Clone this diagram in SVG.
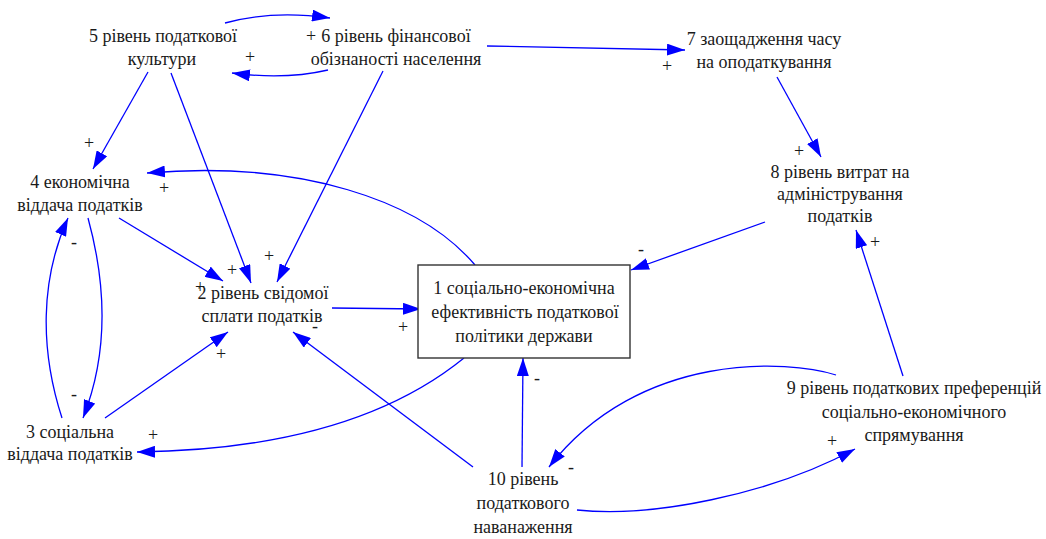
<svg xmlns="http://www.w3.org/2000/svg" width="1046" height="539" viewBox="0 0 1046 539">
<style>
.t{font-family:"Liberation Serif","DejaVu Serif Condensed","DejaVu Serif","Times New Roman",serif;font-size:18px;fill:#1a1a1a;text-anchor:middle}
.e{fill:none;stroke:#0000ff;stroke-width:1.3}
.box{fill:#ffffff;stroke:#333333;stroke-width:1.4}
</style>
<defs>
<marker id="ah" markerUnits="userSpaceOnUse" markerWidth="18" markerHeight="12" refX="18" refY="6" orient="auto">
<path d="M0,0 L18,6 L0,12 z" fill="#0000ff"/>
</marker>
</defs>
<rect width="1046" height="539" fill="#ffffff"/>
<g id="connectors">
<path class="e" marker-end="url(#ah)" d="M225,23 Q272,10 330,18"/>
<path class="e" marker-end="url(#ah)" d="M328,70 Q285,80 232,73"/>
<path class="e" marker-end="url(#ah)" d="M487,46 L685,50"/>
<path class="e" marker-end="url(#ah)" d="M777,77 L821,157"/>
<path class="e" marker-end="url(#ah)" d="M765,222 L631,270"/>
<path class="e" marker-end="url(#ah)" d="M903,376 L856,230"/>
<path class="e" marker-end="url(#ah)" d="M836,375 C790,360 640,350 549,467"/>
<path class="e" marker-end="url(#ah)" d="M577,510 C650,518 770,495 855,449"/>
<path class="e" marker-end="url(#ah)" d="M148,72 L93,169"/>
<path class="e" marker-end="url(#ah)" d="M171,73 L251,283"/>
<path class="e" marker-end="url(#ah)" d="M383,71 L277,282"/>
<path class="e" marker-end="url(#ah)" d="M119,218 L223,281"/>
<path class="e" marker-end="url(#ah)" d="M475,265 C420,200 300,160 147,173"/>
<path class="e" marker-end="url(#ah)" d="M62,418 C40,350 40,280 68,218"/>
<path class="e" marker-end="url(#ah)" d="M88,218 C105,280 110,350 83,418"/>
<path class="e" marker-end="url(#ah)" d="M105,418 L228,332"/>
<path class="e" marker-end="url(#ah)" d="M332,308 L421,309"/>
<path class="e" marker-end="url(#ah)" d="M473,467 L293,332"/>
<path class="e" marker-end="url(#ah)" d="M464,358 C400,410 300,450 137,452"/>
<path class="e" marker-end="url(#ah)" d="M522,467 L523,358"/>
</g>
<g id="labels" class="t">
<text x="311" y="42">+</text>
<text x="250" y="63">+</text>
<text x="667" y="72">+</text>
<text x="799" y="157">+</text>
<text x="641" y="255">-</text>
<text x="875" y="248">+</text>
<text x="571" y="473">-</text>
<text x="832" y="447">+</text>
<text x="89" y="149">+</text>
<text x="232" y="276">+</text>
<text x="269" y="262">+</text>
<text x="200" y="293">+</text>
<text x="164" y="194">+</text>
<text x="74" y="248">-</text>
<text x="74" y="400">-</text>
<text x="221" y="360">+</text>
<text x="403" y="333">+</text>
<text x="315" y="332">-</text>
<text x="153" y="441">+</text>
<text x="537" y="384">-</text>
</g>
<g id="node1">
<rect class="box" x="418" y="265" width="212" height="93"/>
<text class="t" x="524" y="294">1 соціально-економічна</text>
<text class="t" x="525" y="318">ефективність податкової</text>
<text class="t" x="524" y="342">політики держави</text>
</g>
<g id="node2">
<text class="t" x="263" y="299">2 рівень свідомої</text>
<text class="t" x="262" y="322">сплати податків</text>
</g>
<g id="node3">
<text class="t" x="70" y="438">3 соціальна</text>
<text class="t" x="70" y="460">віддача податків</text>
</g>
<g id="node4">
<text class="t" x="80" y="188">4 економічна</text>
<text class="t" x="80" y="211">віддача податків</text>
</g>
<g id="node5">
<text class="t" x="163" y="42">5 рівень податкової</text>
<text class="t" x="162" y="65">культури</text>
</g>
<g id="node6">
<text class="t" x="396" y="42">6 рівень фінансової</text>
<text class="t" x="396" y="65">обізнаності населення</text>
</g>
<g id="node7">
<text class="t" x="764" y="45">7 заощадження часу</text>
<text class="t" x="764" y="68">на оподаткування</text>
</g>
<g id="node8">
<text class="t" x="840" y="178">8 рівень витрат на</text>
<text class="t" x="840" y="200">адміністрування</text>
<text class="t" x="840" y="222">податків</text>
</g>
<g id="node9">
<text class="t" x="914" y="394">9 рівень податкових преференцій</text>
<text class="t" x="914" y="418">соціально-економічного</text>
<text class="t" x="914" y="441">спрямування</text>
</g>
<g id="node10">
<text class="t" x="523" y="485">10 рівень</text>
<text class="t" x="523" y="509">податкового</text>
<text class="t" x="523" y="533">наванаження</text>
</g>
</svg>
